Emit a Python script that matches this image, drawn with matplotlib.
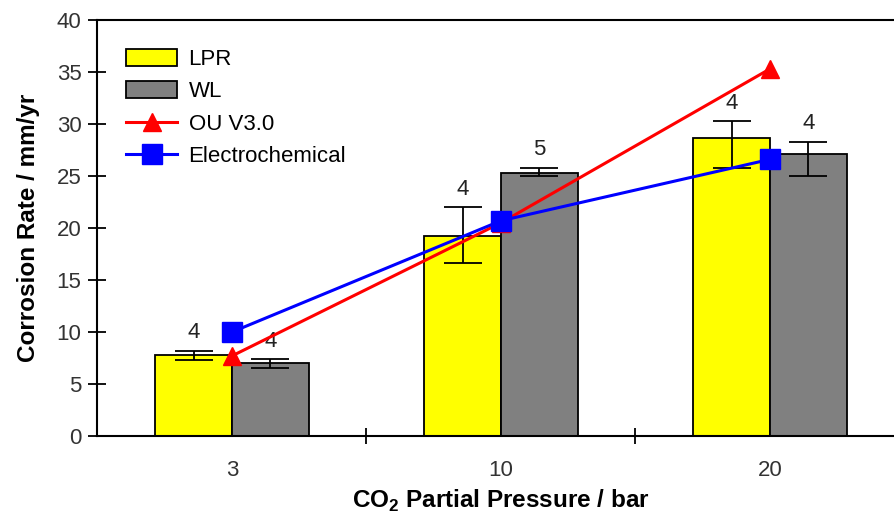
import matplotlib.pyplot as plt
import numpy as np

plt.rcParams['font.family'] = ['Liberation Sans', 'DejaVu Sans']
plt.rcParams['mathtext.fontset'] = 'custom'
plt.rcParams['mathtext.bf'] = 'Liberation Sans:bold'
plt.rcParams['mathtext.rm'] = 'Liberation Sans:bold'

pressures = ['3', '10', '20']
lpr = [7.8, 19.2, 28.7]
lpr_lo = [7.3, 16.6, 25.8]
lpr_hi = [8.2, 22.0, 30.3]
wl = [7.0, 25.3, 27.1]
wl_lo = [6.5, 25.0, 25.0]
wl_hi = [7.4, 25.8, 28.3]
lpr_n = [4, 4, 4]
wl_n = [4, 5, 4]
ou = [7.7, 20.5, 35.3]
echem = [10.0, 20.7, 26.6]

x = np.arange(len(pressures))
w = 0.285

fig = plt.figure(figsize=(8.95, 5.14), dpi=100)
ax = fig.add_axes([97.5 / 895, 78 / 514, 807 / 895, 416 / 514])

lpr_err = [np.array(lpr) - np.array(lpr_lo), np.array(lpr_hi) - np.array(lpr)]
wl_err = [np.array(wl) - np.array(wl_lo), np.array(wl_hi) - np.array(wl)]

ax.bar(x - w / 2, lpr, w, color='#FFFF00', edgecolor='black', linewidth=1.3,
       label='LPR', zorder=2)
ax.bar(x + w / 2, wl, w, color='#808080', edgecolor='black', linewidth=1.3,
       label='WL', zorder=2)
ax.errorbar(x - w / 2, lpr, yerr=lpr_err, fmt='none', ecolor='black',
            elinewidth=1.3, capsize=14, capthick=1.3, zorder=3)
ax.errorbar(x + w / 2, wl, yerr=wl_err, fmt='none', ecolor='black',
            elinewidth=1.3, capsize=14, capthick=1.3, zorder=3)

# sample counts above each error bar
for i in range(len(x)):
    ax.text(x[i] - w / 2, lpr_hi[i] + 0.7, str(lpr_n[i]), ha='center',
            va='bottom', fontsize=16, color='#222222')
    ax.text(x[i] + w / 2, wl_hi[i] + 0.7, str(wl_n[i]), ha='center',
            va='bottom', fontsize=16, color='#222222')

ax.plot(x, ou, color='#FF0000', lw=2.2, marker='^', markersize=13,
        label='OU V3.0', zorder=4)
ax.plot(x, echem, color='#0000FF', lw=2.2, marker='s', markersize=15,
        label='Electrochemical', zorder=5)

ax.set_xlim(-0.5, 2.5)
ax.set_ylim(0, 40)
ax.set_yticks(np.arange(0, 41, 5))
ax.set_xticks(x)
ax.set_xticklabels(pressures)
ax.set_xticks([0.5, 1.5], minor=True)
ax.tick_params(axis='x', which='major', length=0, pad=17, labelsize=16,
               labelcolor='#333333')
ax.tick_params(axis='x', which='minor', direction='inout', length=12,
               width=1.3)
ax.tick_params(axis='y', direction='inout', length=13, width=1.3,
               labelsize=16, labelcolor='#333333', pad=5)

for s in ['left', 'bottom', 'top']:
    ax.spines[s].set_linewidth(1.5)
ax.spines['right'].set_visible(False)

ax.set_ylabel('Corrosion Rate / mm/yr', fontsize=17.5, fontweight='bold',
              labelpad=12)
ax.set_xlabel(r'CO$_\mathbf{2}$ Partial Pressure / bar', fontsize=17.5,
              fontweight='bold', labelpad=5)

handles, labels = ax.get_legend_handles_labels()
order = [labels.index(k) for k in ['LPR', 'WL', 'OU V3.0', 'Electrochemical']]
ax.legend([handles[i] for i in order], [labels[i] for i in order],
          loc='upper left', bbox_to_anchor=(0.0, 1.0), frameon=False,
          fontsize=16, handlelength=2.3, handleheight=0.8, labelspacing=0.5,
          handletextpad=0.5, borderaxespad=0.9)

fig.savefig('out.png', dpi=100)
